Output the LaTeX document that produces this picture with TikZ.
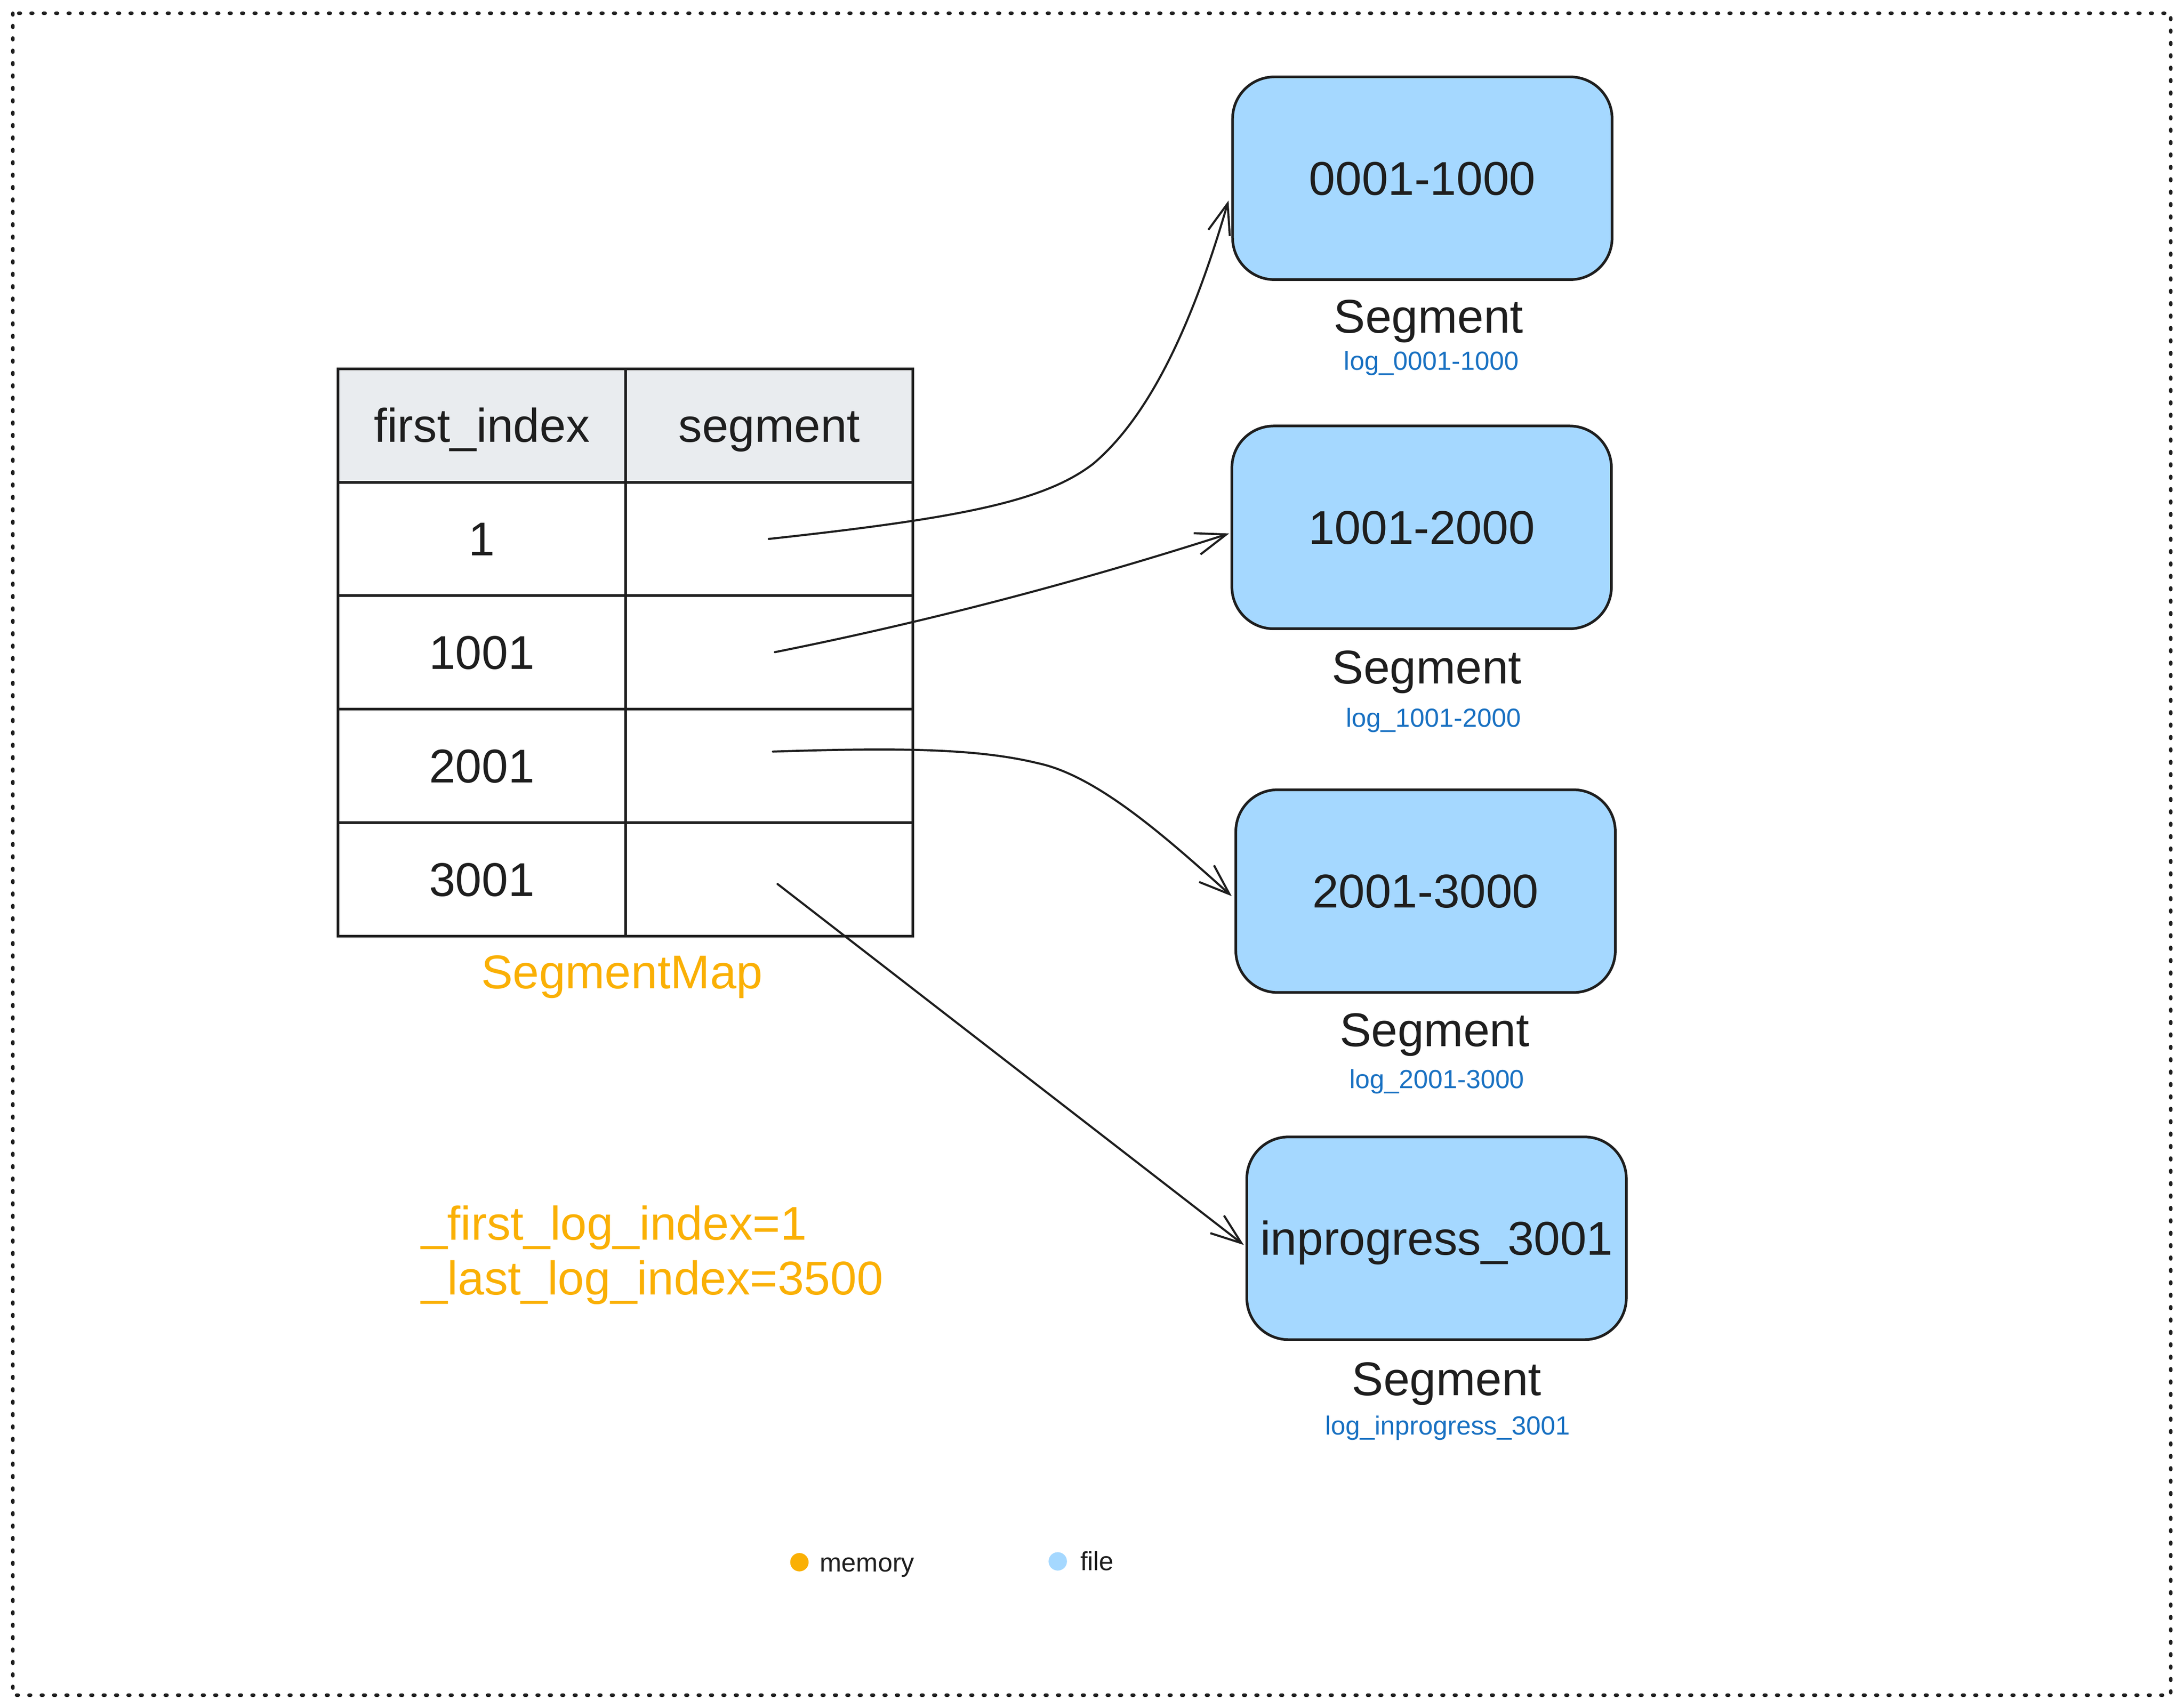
\documentclass[tikz,border=0pt]{standalone}
\usepackage{fontspec}
\setmainfont{Liberation Sans}
\usetikzlibrary{arrows.meta}
\definecolor{ink}{HTML}{1E1E1E}
\definecolor{memo}{HTML}{FAB005}
\definecolor{filebl}{HTML}{A5D8FF}
\definecolor{logblue}{HTML}{1971C2}
\definecolor{headgray}{HTML}{E9ECEF}
\begin{document}
\begin{tikzpicture}[x=0.5pt,y=-0.5pt,
  big/.style={font=\fontsize{17}{20}\selectfont},
  cell/.style={draw=ink, line width=0.95pt, rectangle, minimum width=103.2pt, minimum height=40.75pt, inner sep=0pt, text height=12pt, text depth=0pt, text=ink, big},
  headcell/.style={cell, fill=headgray},
  segbox/.style={draw=ink, line width=0.95pt, fill=filebl, rounded corners=15pt, minimum width=136.25pt, minimum height=72.8pt, inner sep=0pt, text height=12pt, text depth=0pt, text=ink, big},
  seglabel/.style={anchor=base, inner sep=0pt, text=ink, big},
  loglabel/.style={anchor=base, inner sep=0pt, text=logblue, font=\fontsize{9.4}{11}\selectfont},
  memtext/.style={text=memo, big, inner sep=0pt},
  link/.style={draw=ink, line width=0.75pt, line cap=round, line join=round, -{Straight Barb[length=11pt,width=8pt]}},
  legtext/.style={anchor=base west, inner sep=0pt, text=ink, font=\fontsize{9.4}{11}\selectfont},
  legdot/.style={circle, inner sep=0pt, minimum size=6.6pt},
  frame/.style={draw=ink, line width=1.27pt, line cap=round, dash pattern=on 0.6pt off 3.85pt}
]
\useasboundingbox (0,0) rectangle (1568.2,1226.5);
\draw[frame] (9.3,9.5) rectangle (1558.7,1217.3);

% table
\node[headcell] (h1) at (345.95,305.55) {first\_index};
\node[headcell] (h2) at (552.35,305.55) {segment};
\node[cell] (r1a) at (345.95,387.05) {1};
\node[cell] (r1b) at (552.35,387.05) {};
\node[cell] (r2a) at (345.95,468.55) {1001};
\node[cell] (r2b) at (552.35,468.55) {};
\node[cell] (r3a) at (345.95,550.05) {2001};
\node[cell] (r3b) at (552.35,550.05) {};
\node[cell] (r4a) at (345.95,631.55) {3001};
\node[cell] (r4b) at (552.35,631.55) {};
\node[memtext, anchor=base] (smap) at (446.6,710) {SegmentMap};

\node[memtext, anchor=base west] (fl) at (302,890.3) {\_first\_log\_index=1};
\node[memtext, anchor=base west] (ll) at (302,929.6) {\_last\_log\_index=3500};

% segments
\node[segbox] (b1) at (1021.3,128) {0001-1000};
\node[segbox] (b2) at (1020.8,378.7) {1001-2000};
\node[segbox] (b3) at (1023.6,639.9) {2001-3000};
\node[segbox] (b4) at (1031.5,889.2) {inprogress\_3001};

\node[seglabel] (sl1) at (1025.7,239) {Segment};
\node[loglabel] (lg1) at (1027.8,265.6) {log\_0001-1000};
\node[seglabel] (sl2) at (1024.5,491) {Segment};
\node[loglabel] (lg2) at (1029.3,522) {log\_1001-2000};
\node[seglabel] (sl3) at (1030,751.4) {Segment};
\node[loglabel] (lg3) at (1031.8,781.4) {log\_2001-3000};
\node[seglabel] (sl4) at (1038.8,1001.9) {Segment};
\node[loglabel] (lg4) at (1039.5,1030.3) {log\_inprogress\_3001};

% connectors
\coordinate (s1) at (552,387);
\coordinate (s2) at (556.4,468.3);
\coordinate (s3) at (555,539.7);
\coordinate (s4) at (558.3,634.8);
\coordinate (e1) at ([xshift=-1pt,yshift=-8pt]b1.west);
\coordinate (e2) at ([xshift=-0.5pt,yshift=-2.2pt]b2.west);
\coordinate (e3) at ([xshift=-1pt,yshift=-1.8pt]b3.west);
\coordinate (e4) at ([xshift=-0.6pt,yshift=-2.4pt]b4.west);

\draw[link] (s1) .. controls (690,372) and (750,360) .. (785,333) .. controls (830,295) and (860,220) .. (e1);
\draw[link] (s2) .. controls (666,446.4) and (774,418) .. (e2);
\draw[link] (s3) .. controls (640,537) and (700,537) .. (745,548) .. controls (788,557) and (838,602) .. (e3);
\draw[link] (s4) -- (e4);

% legend
\node[legdot, fill=memo] (dm) at (574,1121.8) {};
\node[legtext] (tm) at (588.3,1128.5) {memory};
\node[legdot, fill=filebl] (df) at (759.5,1121.2) {};
\node[legtext] (tf) at (775.3,1127.8) {file};
\end{tikzpicture}
\end{document}
